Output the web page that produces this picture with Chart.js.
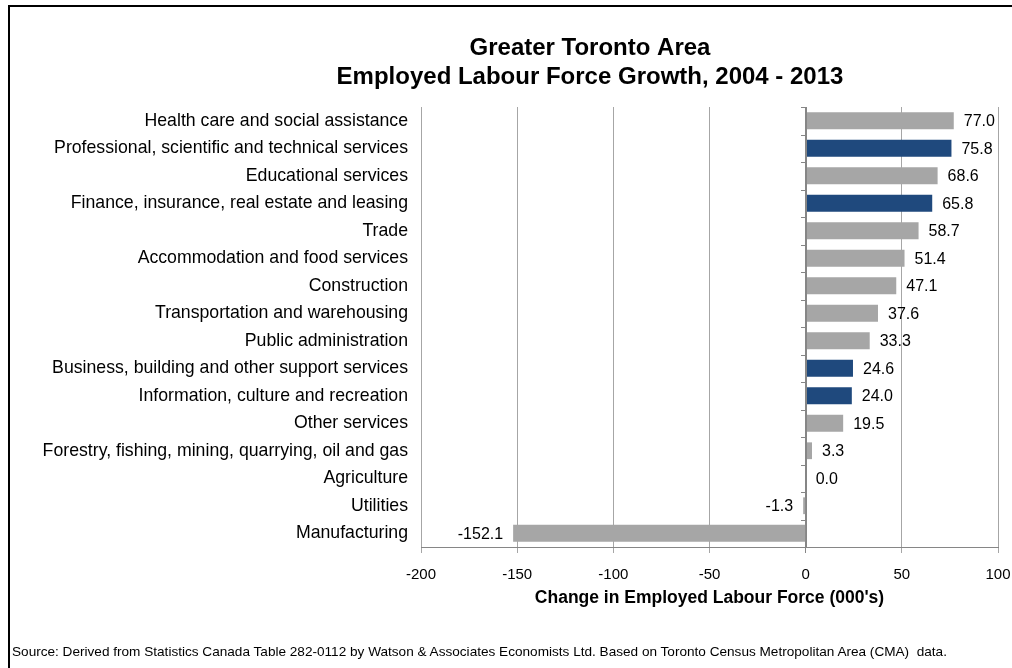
<!DOCTYPE html>
<html>
<head>
<meta charset="utf-8">
<script src="https://cdn.jsdelivr.net/npm/chart.js@4.4.1/dist/chart.umd.min.js"></script>
<style>
  body { margin: 0; background: #fff; }
  #wrap { position: relative; width: 1012px; height: 668px; overflow: hidden; }
  #frame { position: absolute; left: 8px; top: 5px; width: 1200px; height: 900px;
           border-top: 2px solid #000; border-left: 2px solid #000; }
  #chart { position: absolute; left: 0; top: 0; }
  #source { position: absolute; left: 12px; top: 644px; white-space: nowrap;
            font: 13.6px "Liberation Sans", Arial, sans-serif; color: #000; }
</style>
</head>
<body>
<div id="wrap">
  <div id="frame"></div>
  <canvas id="chart" width="1012" height="668"></canvas>
  <div id="source">Source: Derived from Statistics Canada Table 282-0112 by Watson &amp; Associates Economists Ltd. Based on Toronto Census Metropolitan Area (CMA)&nbsp; data.</div>
</div>
<script>
const titleLines = ['Greater Toronto Area', 'Employed Labour Force Growth, 2004 - 2013'];
const axisTitle = "Change in Employed Labour Force (000's)";

const industries = [
  'Health care and social assistance',
  'Professional, scientific and technical services',
  'Educational services',
  'Finance, insurance, real estate and leasing',
  'Trade',
  'Accommodation and food services',
  'Construction',
  'Transportation and warehousing',
  'Public administration',
  'Business, building and other support services',
  'Information, culture and recreation',
  'Other services',
  'Forestry, fishing, mining, quarrying, oil and gas',
  'Agriculture',
  'Utilities',
  'Manufacturing'
];
const growth = [77.0, 75.8, 68.6, 65.8, 58.7, 51.4, 47.1, 37.6, 33.3, 24.6, 24.0, 19.5, 3.3, 0.0, -1.3, -152.1];
const highlighted = [0, 1, 0, 1, 0, 0, 0, 0, 0, 1, 1, 0, 0, 0, 0, 0];

const GREY = '#a6a6a6';
const NAVY = '#1f497d';
const AXIS = '#868686';
const FONT = '"Liberation Sans", Arial, sans-serif';

const barColours = highlighted.map(h => h ? NAVY : GREY);

// value labels, zero axis with category ticks, and the two-line heading
const extras = {
  id: 'extras',
  afterDatasetsDraw(chart) {
    const ctx = chart.ctx;
    const area = chart.chartArea;
    const xz = chart.scales.x.getPixelForValue(0);

    ctx.save();
    ctx.strokeStyle = AXIS;
    ctx.lineWidth = 1;
    ctx.beginPath();
    ctx.moveTo(Math.round(xz) + 0.5, area.top);
    ctx.lineTo(Math.round(xz) + 0.5, area.bottom);
    const step = (area.bottom - area.top) / industries.length;
    for (let k = 0; k <= industries.length; k++) {
      const y = Math.round(area.top + k * step) + 0.5;
      ctx.moveTo(Math.round(xz) - 5, y);
      ctx.lineTo(Math.round(xz) + 0.5, y);
    }
    ctx.stroke();

    ctx.fillStyle = '#000';
    ctx.font = '16px ' + FONT;
    ctx.textBaseline = 'middle';
    const meta = chart.getDatasetMeta(0);
    meta.data.forEach((bar, i) => {
      const v = growth[i];
      if (v >= 0) {
        ctx.textAlign = 'left';
        ctx.fillText(v.toFixed(1), bar.x + 10, bar.y + 1);
      } else {
        ctx.textAlign = 'right';
        ctx.fillText(v.toFixed(1), bar.x - 10, bar.y + 1);
      }
    });

    ctx.font = 'bold 24px ' + FONT;
    ctx.textAlign = 'center';
    ctx.fillText(titleLines[0], 590, 48);
    ctx.fillText(titleLines[1], 590, 77);
    ctx.restore();
  }
};

new Chart(document.getElementById('chart'), {
  type: 'bar',
  data: {
    labels: industries,
    datasets: [{
      data: growth,
      backgroundColor: barColours,
      borderWidth: 0,
      categoryPercentage: 1,
      barPercentage: 0.61
    }]
  },
  options: {
    indexAxis: 'y',
    responsive: false,
    animation: false,
    events: [],
    layout: { padding: { left: 0, right: 14, top: 107, bottom: 59 } },
    plugins: {
      legend: { display: false },
      tooltip: { enabled: false }
    },
    scales: {
      x: {
        min: -200,
        max: 100,
        ticks: { stepSize: 50, color: '#000', font: { family: FONT, size: 15 }, padding: 13 },
        grid: {
          color: ctx => (ctx.tick && ctx.tick.value === 0) ? AXIS : GREY,
          tickLength: 6
        },
        border: { display: true, color: AXIS },
        title: {
          display: true,
          text: axisTitle,
          color: '#000',
          font: { family: FONT, size: 17.5, weight: 'bold' },
          padding: { top: 0, bottom: 0 }
        },
        afterFit(scale) {
          scale.height = 62;
          scale.paddingLeft = 0;
          scale.paddingRight = 0;
        }
      },
      y: {
        ticks: { color: '#000', font: { family: FONT, size: 17.7 }, padding: 13, autoSkip: false },
        grid: { display: false, drawTicks: false },
        border: { display: false },
        afterFit(scale) {
          scale.width = 421;
        }
      }
    }
  },
  plugins: [extras]
});
</script>
</body>
</html>
